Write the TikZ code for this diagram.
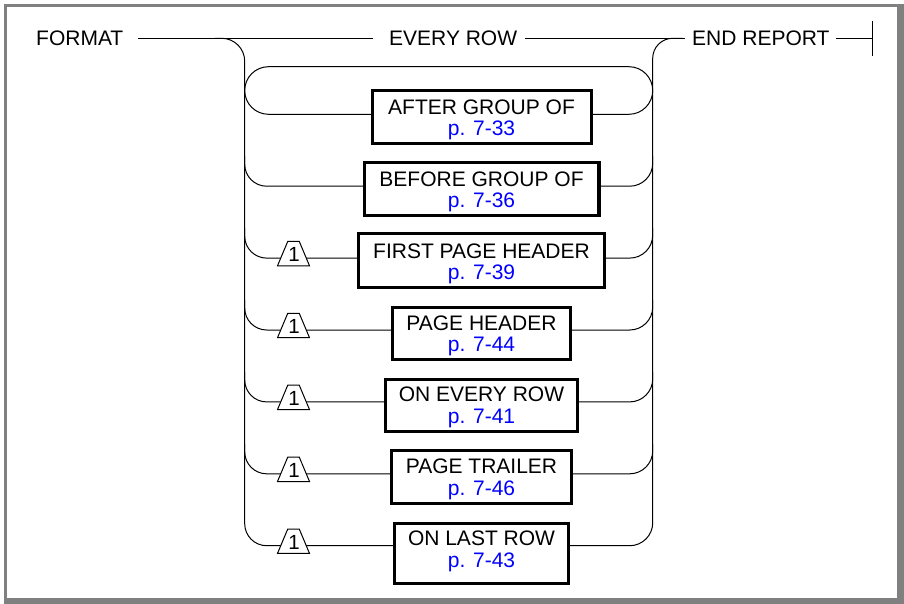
\documentclass[tikz,border=0pt]{standalone}
\usepackage{fontspec}
\setmainfont{Liberation Sans}
\begin{document}
\begin{tikzpicture}[x=1pt,y=-1pt,
  wire/.style={line width=1pt},
  mainlbl/.style={inner sep=0pt, text height=15pt, text depth=0pt, anchor=base west,
    font=\fontsize{21pt}{21.5pt}\selectfont},
  boxnode/.style={draw, line width=3.2pt, inner sep=0pt},
  boxtext/.style={anchor=north, align=center, inner sep=0pt,
    font=\fontsize{21pt}{21.5pt}\selectfont},
  onelbl/.style={anchor=base, inner sep=0pt, font=\fontsize{20.5pt}{21pt}\selectfont},
  trap/.style={draw, fill=white, line width=1pt},
]
\useasboundingbox (0,0) rectangle (904,604);
% frame
\fill[gray] (4,4) rectangle (904,604);
\fill[white] (7,7) rectangle (897,598);

% main labels
\node[mainlbl] (format) at (36,45.8) {FORMAT};
\node[mainlbl] (every) at (389,45.8) {EVERY ROW};
\node[mainlbl] (endrep) at (692,45.8) {END REPORT};
\coordinate (endbar) at (872.3,38.3);

% boxes
\node[boxnode, minimum width=218.8pt, minimum height=52.8pt] (b0) at (482,117) {};
\node[boxnode, minimum width=234.3pt, minimum height=52.8pt] (b1) at (481.75,189) {};
\node[boxnode, minimum width=245.8pt, minimum height=53.8pt] (b2) at (481.5,260.5) {};
\node[boxnode, minimum width=177.8pt, minimum height=51.8pt] (b3) at (481.5,333.5) {};
\node[boxnode, minimum width=191.8pt, minimum height=51.8pt] (b4) at (481.5,405.5) {};
\node[boxnode, minimum width=179.8pt, minimum height=52.8pt] (b5) at (481.5,477) {};
\node[boxnode, minimum width=173.8pt, minimum height=59.8pt] (b6) at (481.5,553.5) {};

\node[boxtext] (l0) at (481.5,99.5) {AFTER GROUP OF\\\textcolor{blue}{p. 7-33}};
\node[boxtext] (l1) at (481.5,171.4) {BEFORE GROUP OF\\\textcolor{blue}{p. 7-36}};
\node[boxtext] (l2) at (481.5,243.3) {FIRST PAGE HEADER\\\textcolor{blue}{p. 7-39}};
\node[boxtext] (l3) at (481.5,315.2) {PAGE HEADER\\\textcolor{blue}{p. 7-44}};
\node[boxtext] (l4) at (481.5,387.1) {ON EVERY ROW\\\textcolor{blue}{p. 7-41}};
\node[boxtext] (l5) at (481.5,459.0) {PAGE TRAILER\\\textcolor{blue}{p. 7-46}};
\node[boxtext] (l6) at (481.5,530.9) {ON LAST ROW\\\textcolor{blue}{p. 7-43}};

% row coordinates on the two spines
\foreach \i/\r in {0/114.3,1/186.2,2/258.1,3/330,4/401.9,5/473.8,6/545.7}{
  \coordinate (lr\i) at (244.7,\r);
  \coordinate (rr\i) at (652.7,\r);
}
\coordinate (ltop) at (244.7,38.3);
\coordinate (rtop) at (652.7,38.3);
\coordinate (lmid) at (244.7,300);
\coordinate (rmid) at (652.7,300);

% main line
\draw[wire, shorten <=15pt, shorten >=16pt] (format.east) -- (every.west);
\draw[wire, shorten <=8pt, shorten >=7pt] (every.east) -- (endrep.west);
\draw[wire, shorten <=6pt] (endrep.east) -- (endbar);
\draw[wire] ([yshift=17.5pt]endbar) -- ([yshift=-17.5pt]endbar);

% spines
\draw[wire, rounded corners=23pt] ([xshift=-30pt]ltop) -- (ltop) -- (lmid);
\draw[wire, rounded corners=20pt] ([xshift=30pt]rtop) -- (rtop) -- (rmid);
\draw[wire, rounded corners=22pt] (lmid) -- (lr6) -- (lr6 -| b6.west);
\draw[wire, rounded corners=23pt] (rmid) -- (rr6) -- (rr6 -| b6.east);

% loop with first row
\draw[wire, rounded corners=23.8pt] (lr0 -| b0.west) -- (lr0) -- (244.7,66.7)
  -- (652.7,66.7) -- (rr0) -- (rr0 -| b0.east);

% other rows
\foreach \i in {1,...,5}{
  \draw[wire, rounded corners=22pt] ([yshift=30pt]lr\i) -- (lr\i) -- (lr\i -| b\i.west);
  \draw[wire, rounded corners=23pt] ([yshift=30pt]rr\i) -- (rr\i) -- (rr\i -| b\i.east);
}

% "1" markers
\foreach \i/\r in {2/258.1,3/330,4/401.9,5/473.8,6/545.7}{
  \draw[trap] (277.5,\r+7.7) -- (309.5,\r+7.7) -- (299.25,\r-16.7) -- (287.75,\r-16.7) -- cycle;
  \node[onelbl] (one\i) at (294,\r+3.4) {1};
}
\end{tikzpicture}
\end{document}
